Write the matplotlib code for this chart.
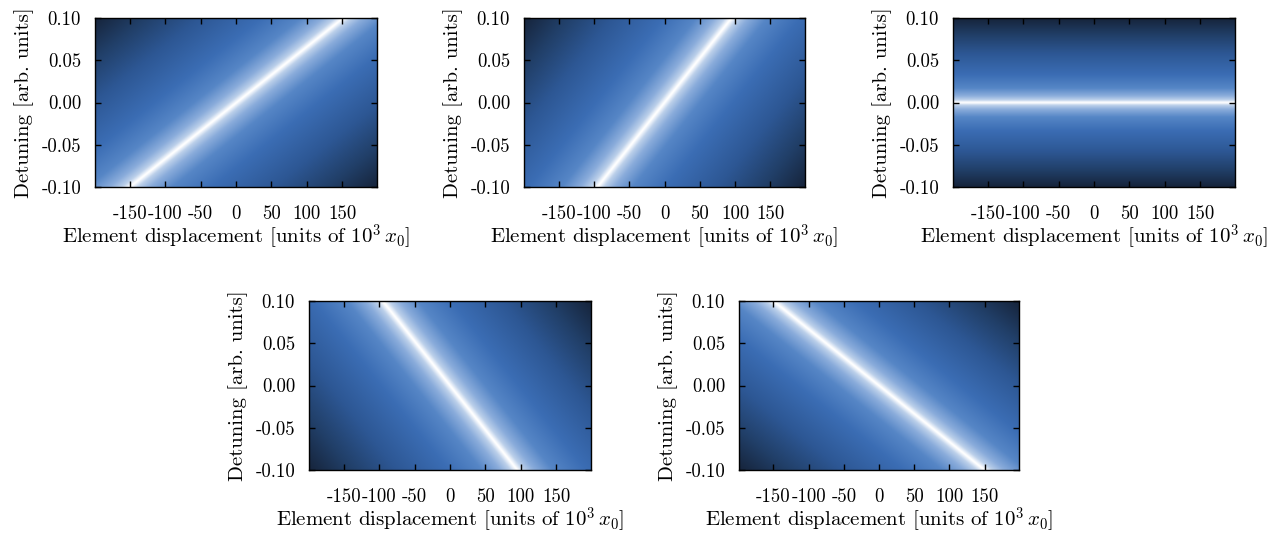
import numpy as np
import matplotlib.pyplot as plt
from matplotlib.colors import LinearSegmentedColormap

plt.rcParams['font.family'] = 'cmr10'
plt.rcParams['mathtext.fontset'] = 'cm'
plt.rcParams['axes.formatter.use_mathtext'] = True

# slope of the resonance line (detuning per unit displacement) in each panel
line_slope = [0.1 / 150, 0.1 / 95, 0.0, -0.1 / 95, -0.1 / 150]

x_ticks = [-150, -100, -50, 0, 50, 100, 150]
x_ticklabels = ['-150', '-100', '-50', '0', '50', '100', '150']
y_ticks = [-0.10, -0.05, 0.00, 0.05, 0.10]
y_ticklabels = ['-0.10', '-0.05', '0.00', '0.05', '0.10']
x_range = (-199, 199)
y_range = (-0.1, 0.1)

cmap = LinearSegmentedColormap.from_list('blues', [
    (0.000, '#ffffff'),
    (0.008, '#eef3fa'),
    (0.030, '#bcd0ea'),
    (0.080, '#8aacdb'),
    (0.170, '#5686c6'),
    (0.330, '#3b6db4'),
    (0.580, '#2d5794'),
    (0.800, '#213f68'),
    (1.000, '#16243b'),
])

# panel positions (pixels: left, right, top, bottom)
W, H = 1275, 533
boxes = [(95, 377, 18, 187), (524, 805, 18, 187), (953, 1235, 18, 187),
         (309, 591, 301, 470), (739, 1019, 301, 470)]

fig = plt.figure(figsize=(W / 100, H / 100), dpi=100)

x = np.linspace(x_range[0], x_range[1], 1000)
y = np.linspace(y_range[0], y_range[1], 600)
X, Y = np.meshgrid(x, y)

for s, (l, r, t, b) in zip(line_slope, boxes):
    ax = fig.add_axes([l / W, 1 - b / H, (r - l) / W, (b - t) / H])
    d = np.abs(Y - s * X)
    d = d / d.max()
    ax.imshow(d, cmap=cmap, origin='lower', aspect='auto',
              extent=[x_range[0], x_range[1], y_range[0], y_range[1]],
              interpolation='bilinear', vmin=0, vmax=1)
    ax.set_xlim(x_range)
    ax.set_ylim(y_range)
    ax.set_xticks(x_ticks)
    ax.set_xticklabels(x_ticklabels)
    ax.set_yticks(y_ticks)
    ax.set_yticklabels(y_ticklabels)
    ax.tick_params(direction='in', top=True, right=True, length=4,
                   width=1, labelsize=13.5)
    ax.tick_params(axis='x', pad=13)
    ax.tick_params(axis='y', pad=10)
    for sp in ax.spines.values():
        sp.set_linewidth(1)
    ax.set_xlabel(r'Element displacement [units of $10^3\,x_0$]', fontsize=15, labelpad=-1)
    ax.set_ylabel('Detuning [arb. units]', fontsize=15, labelpad=5)

fig.savefig('out.png', dpi=100)
